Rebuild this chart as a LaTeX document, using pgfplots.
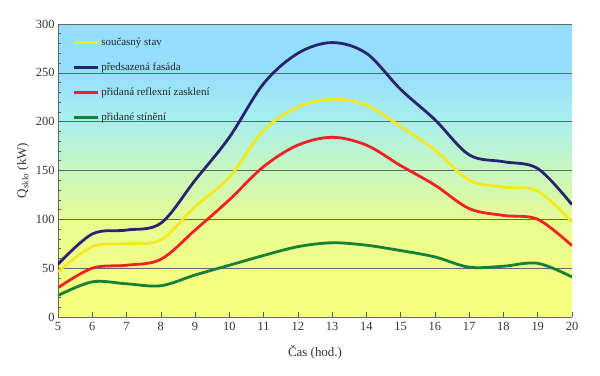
\documentclass[border=0pt]{standalone}
\usepackage{pgfplots}
\pgfplotsset{compat=1.18}
\usepackage{fontspec}
\setmainfont{Liberation Serif}
\definecolor{cyel}{RGB}{242,234,30}
\definecolor{cnavy}{RGB}{40,35,112}
\definecolor{cred}{RGB}{238,34,34}
\definecolor{cgreen}{RGB}{22,128,52}
\definecolor{bg0}{RGB}{245,255,128}
\definecolor{bg1}{RGB}{232,252,145}
\definecolor{bg2}{RGB}{196,247,196}
\definecolor{bg3}{RGB}{168,238,240}
\definecolor{bg4}{RGB}{150,222,253}
\pgfdeclareverticalshading{bgshade}{100bp}{color(0bp)=(bg0); color(30bp)=(bg0); color(41bp)=(bg1); color(51bp)=(bg2); color(59bp)=(bg3); color(67bp)=(bg4); color(100bp)=(bg4)}
\begin{document}
\begin{tikzpicture}
\begin{axis}[
  name=ax,
  scale only axis,
  width=514bp, height=293bp,
  xmin=5, xmax=20, ymin=0, ymax=300,
  xtick={5,...,20},
  ytick={0,50,...,300},
  minor y tick num=4,
  axis x line*=bottom,
  axis y line*=left,
  axis line style={draw=gray!80!black, line width=0.8pt},
  tick align=inside,
  major tick length=5bp, minor tick length=3bp,
  tick style={draw=gray!70!black, line width=0.6pt},
  ymajorgrids,
  grid style={draw=black!60, line width=0.6pt},
  axis background/.style={shading=bgshade},
  /pgf/number format/assume math mode=true,
  ticklabel style={font=\fontsize{12.5}{14}\selectfont, text=black!80},
  xticklabel style={yshift=-2bp},
  ylabel={Q\textsubscript{sklo} (kW)},
  xlabel={Čas (hod.)},
  label style={font=\fontsize{13}{15}\selectfont, text=black!80},
  xlabel style={yshift=-8bp},
  legend style={draw=none, fill=none, at={(rel axis cs:0.022,0.968)}, anchor=north west,
    font=\fontsize{11}{13}\selectfont, row sep=12bp, text=black!85},
  legend cell align=left,
  legend image code/.code={\draw[#1, line width=2.8pt] (0bp,0bp) -- (24bp,0bp);},
  every axis plot/.append style={line width=2.8pt, smooth, tension=0.55},
]
\addplot[cyel] coordinates {(5,46) (6,72) (7,75) (8,79) (9,113) (10,143) (11,191) (12,215) (13,223) (14,217) (15,195) (16,171) (17,140) (18,133) (19,129) (20,97)};
\addlegendentry{současný stav}
\addplot[cnavy] coordinates {(5,54) (6,85) (7,89) (8,96) (9,140) (10,184) (11,239) (12,270) (13,281) (14,270) (15,233) (16,202) (17,166) (18,159) (19,152) (20,115)};
\addlegendentry{předsazená fasáda}
\addplot[cred] coordinates {(5,30) (6,50) (7,53) (8,59) (9,89) (10,120) (11,154) (12,176) (13,184) (14,176) (15,155) (16,135) (17,111) (18,104) (19,100) (20,73)};
\addlegendentry{přidaná reflexní zasklení}
\addplot[cgreen] coordinates {(5,22) (6,36) (7,34) (8,32) (9,43) (10,53) (11,63) (12,72) (13,76) (14,73.5) (15,68) (16,61.5) (17,51) (18,52) (19,55) (20,41)};
\addlegendentry{přidané stínění}
\draw[gray!80!black, line width=0.8pt] (rel axis cs:0,1) -- (rel axis cs:1,1);
\end{axis}
\path (ax.south west) ++(-58bp,-59bp) coordinate (bl);
\path (ax.north east) ++(28bp,24bp) coordinate (tr);
\path (bl) rectangle (tr);
\end{tikzpicture}
\end{document}
